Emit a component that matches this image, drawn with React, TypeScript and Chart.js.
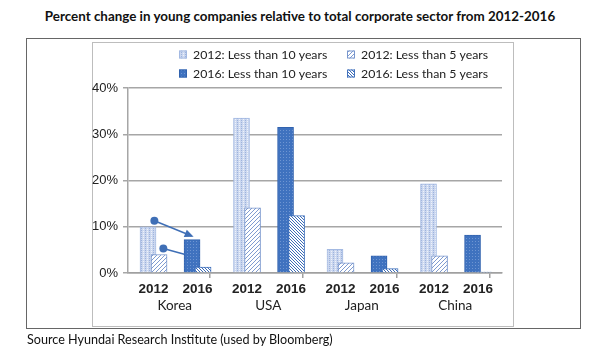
import React, { useEffect, useRef } from 'react';
import { Chart, registerables } from 'chart.js';
Chart.register(...registerables);

const countries = ['Korea', 'USA', 'Japan', 'China'];
const years = ['2012', '2016'];
const lt10y2012 = [10.0, 33.5, 5.1, 19.3];
const lt5y2012 = [4.0, 14.1, 2.2, 3.7];
const lt10y2016 = [7.2, 31.5, 3.7, 8.2];
const lt5y2016 = [1.3, 12.4, 0.95, 0.2];
const seriesLabels = [
  '2012: Less than 10 years',
  '2012: Less than 5 years',
  '2016: Less than 10 years',
  '2016: Less than 5 years',
];
const yTickValues = [0, 10, 20, 30, 40];
// Korea annotation arrows (in % values)
const arrowStartY = [11.3, 5.3];
const arrowEndY = [8.0, 3.55];

const TEXT = 'Lato, "Liberation Sans", sans-serif';
const ARIAL = '"Liberation Sans", Arial, sans-serif';

function makePattern(kind: string): CanvasPattern | string {
  const c = document.createElement('canvas');
  const x = c.getContext('2d')!;
  if (kind === 'light') {
    c.width = 4; c.height = 2;
    x.fillStyle = '#cbd7ef'; x.fillRect(0, 0, 4, 2);
    x.fillStyle = '#9db3dd'; x.fillRect(1, 0, 1, 1);
    x.fillStyle = '#eef2fa'; x.fillRect(3, 1, 1, 1);
  } else if (kind === 'dark') {
    c.width = 3; c.height = 3;
    x.fillStyle = '#3f72bf'; x.fillRect(0, 0, 3, 3);
    x.fillStyle = '#6e95d2'; x.fillRect(1, 1, 1, 1);
  } else if (kind === 'fwd') {
    c.width = 4; c.height = 4;
    x.fillStyle = '#ffffff'; x.fillRect(0, 0, 4, 4);
    x.fillStyle = '#7f9bd0';
    for (let i = 0; i < 4; i++) x.fillRect(3 - i, i, 1, 1);
  } else {
    c.width = 3; c.height = 3;
    x.fillStyle = '#ffffff'; x.fillRect(0, 0, 3, 3);
    x.fillStyle = '#3d6db8';
    for (let i = 0; i < 3; i++) x.fillRect(i, i, 1, 1);
  }
  const ctx = document.createElement('canvas').getContext('2d')!;
  return ctx.createPattern(c, 'repeat') || '#888';
}

const yearCenter = [0.273, 0.744];
const barShift = 0.059;

export default function App() {
  const ref = useRef<HTMLCanvasElement>(null);
  useEffect(() => {
    const canvas = ref.current!;
    const fills = [makePattern('light'), makePattern('fwd'), makePattern('dark'), makePattern('back')];
    const borders = ['#a3b9e2', '#7896cd', '#3162ae', '#4373bd'];
    const values = [lt10y2012, lt5y2012, lt10y2016, lt5y2016];

    const datasets = values.map((vals, s) => {
      const yi = s < 2 ? 0 : 1;
      const shift = s % 2 === 0 ? -barShift : barShift;
      return {
        label: seriesLabels[s],
        data: vals.map((v, i) => ({ x: i + yearCenter[yi] + shift, y: v })),
        backgroundColor: fills[s],
        borderColor: borders[s],
        borderWidth: 1,
        barThickness: 16,
        grouped: false,
        order: s % 2 === 0 ? 1 : 0,
      };
    });

    const xTickVals: number[] = [];
    const xTickLabels: string[] = [];
    countries.forEach((_, i) => {
      xTickVals.push(i); xTickLabels.push('');
      years.forEach((y, k) => { xTickVals.push(i + yearCenter[k]); xTickLabels.push(y); });
    });
    xTickVals.push(countries.length); xTickLabels.push('');

    const arrows = {
      id: 'arrows',
      beforeDatasetsDraw(chart: any) {
        const { ctx } = chart;
        const xs = chart.scales.x, ys = chart.scales.y;
        ctx.save();
        ctx.strokeStyle = '#3f6fb6';
        ctx.fillStyle = '#3f6fb6';
        ctx.lineWidth = 1.5;
        const starts = [0.282, 0.378];
        const ends = [0.682, 0.69];
        for (let k = 0; k < 2; k++) {
          const x0 = xs.getPixelForValue(starts[k]);
          const y0 = ys.getPixelForValue(arrowStartY[k]);
          const x1 = xs.getPixelForValue(ends[k]);
          const y1 = ys.getPixelForValue(arrowEndY[k]);
          ctx.beginPath(); ctx.moveTo(x0, y0); ctx.lineTo(x1, y1); ctx.stroke();
          ctx.beginPath(); ctx.arc(x0, y0, 4, 0, Math.PI * 2); ctx.fill();
          const a = Math.atan2(y1 - y0, x1 - x0);
          ctx.beginPath();
          ctx.moveTo(x1 + 2 * Math.cos(a), y1 + 2 * Math.sin(a));
          ctx.lineTo(x1 - 7 * Math.cos(a) + 4 * Math.sin(a), y1 - 7 * Math.sin(a) - 4 * Math.cos(a));
          ctx.lineTo(x1 - 7 * Math.cos(a) - 4 * Math.sin(a), y1 - 7 * Math.sin(a) + 4 * Math.cos(a));
          ctx.closePath(); ctx.fill();
        }
        ctx.restore();
      },
    };

    const legend = {
      id: 'customLegend',
      afterDraw(chart: any) {
        const { ctx } = chart;
        const cols = [179, 347];
        const rows = [54.5, 73.5];
        ctx.save();
        ctx.font = '12.3px ' + TEXT;
        ctx.textBaseline = 'middle';
        for (let s = 0; s < 4; s++) {
          const cx = cols[s % 2];
          const cy = rows[s < 2 ? 0 : 1];
          ctx.fillStyle = fills[s] as any;
          ctx.fillRect(cx, cy - 4, 8, 8);
          ctx.strokeStyle = borders[s];
          ctx.lineWidth = 1;
          ctx.strokeRect(cx + 0.5, cy - 3.5, 7, 7);
          ctx.fillStyle = '#222';
          ctx.fillText(seriesLabels[s], cx + 14, cy + 0.5);
        }
        ctx.restore();
      },
    };

    const chart = new Chart(canvas, {
      type: 'bar',
      data: { datasets: datasets as any },
      plugins: [arrows, legend],
      options: {
        animation: false,
        responsive: false,
        layout: { padding: { left: 92, right: 98, top: 88, bottom: 36 } },
        plugins: { legend: { display: false }, tooltip: { enabled: false } },
        scales: {
          x: {
            type: 'linear',
            offset: false,
            min: 0,
            max: countries.length,
            weight: 0,
            afterBuildTicks: (axis: any) => { axis.ticks = xTickVals.map((v) => ({ value: v })); },
            afterFit: (axis: any) => { axis.height = 24; },
            ticks: {
              autoSkip: false,
              maxRotation: 0,
              padding: 3,
              color: '#222',
              font: { family: ARIAL, size: 13.5, weight: 'bold' },
              callback: (_v: any, i: number) => xTickLabels[i],
            },
            grid: {
              drawOnChartArea: false,
              tickLength: 5,
              tickColor: (c: any) => (xTickLabels[c.index] === '' ? '#a0a0a0' : 'rgba(0,0,0,0)'),
              color: (c: any) => (xTickLabels[c.index] === '' ? '#a0a0a0' : 'rgba(0,0,0,0)'),
              lineWidth: 1.5,
            },
            border: { display: true, color: '#a0a0a0', width: 1.5 },
          },
          x2: {
            type: 'linear',
            offset: false,
            position: 'bottom',
            min: 0,
            max: countries.length,
            weight: 1,
            afterBuildTicks: (axis: any) => { axis.ticks = countries.map((_, i) => ({ value: i + 0.5 })); },
            afterFit: (axis: any) => { axis.height = 20; },
            ticks: {
              autoSkip: false,
              maxRotation: 0,
              padding: 1,
              color: '#222',
              font: { family: TEXT, size: 13.5 },
              callback: (_v: any, i: number) => countries[i],
            },
            grid: { display: false, drawTicks: false },
            border: { display: false },
          },
          y: {
            min: 0,
            max: 40,
            afterBuildTicks: (axis: any) => { axis.ticks = yTickValues.map((v) => ({ value: v })); },
            afterFit: (axis: any) => { axis.width = 36; },
            ticks: {
              padding: 5,
              color: '#222',
              font: { family: ARIAL, size: 13 },
              callback: (v: any) => v + '%',
            },
            grid: { color: '#a6a6a6', lineWidth: 1.5, tickLength: 5 },
            border: { display: true, color: '#a6a6a6', width: 1.5 },
          },
        },
      } as any,
    });
    return () => chart.destroy();
  }, []);

  return (
    <div style={{ position: 'absolute', left: 0, top: 0, width: 600, height: 353, background: '#fff', overflow: 'hidden' }}>
      <div style={{ position: 'absolute', left: 0, top: 8, width: 600, textAlign: 'center', fontFamily: TEXT, fontWeight: 'bold', fontSize: 13.4, color: '#111', whiteSpace: 'nowrap' }}>
        Percent change in young companies relative to total corporate sector from 2012-2016
      </div>
      <div style={{ position: 'absolute', left: 26, top: 38, width: 553, height: 289, border: '1px solid #666' }} />
      <div style={{ position: 'absolute', left: 92, top: 42, width: 420, height: 283, border: '1px solid #bdbdbd' }} />
      <canvas ref={ref} width={600} height={353} style={{ position: 'absolute', left: 0, top: 0, width: 600, height: 353 }} />
      <div style={{ position: 'absolute', left: 27, top: 332, fontFamily: TEXT, fontSize: 12.6, color: '#111', whiteSpace: 'nowrap' }}>
        Source Hyundai Research Institute (used by Bloomberg)
      </div>
    </div>
  );
}
